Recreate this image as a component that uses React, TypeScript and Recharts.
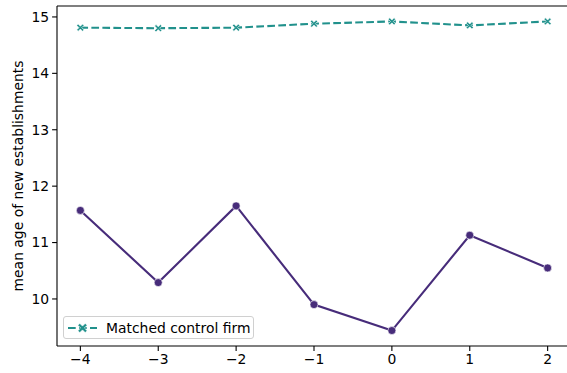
import React from "react";
import {
  LineChart,
  Line,
  XAxis,
  YAxis,
  ReferenceLine,
} from "recharts";

// event time relative to treatment
const periods = [-4, -3, -2, -1, 0, 1, 2];
// mean age of new establishments, treated firms
const treatedAge = [11.57, 10.29, 11.65, 9.9, 9.44, 11.13, 10.55];
// mean age of new establishments, matched control firms
const controlAge = [14.81, 14.8, 14.81, 14.88, 14.92, 14.85, 14.92];

const xTicks = [-4, -3, -2, -1, 0, 1, 2];
const yTicks = [10, 11, 12, 13, 14, 15];
const xDomain: [number, number] = [-4.3, 2.3];
const yDomain: [number, number] = [9.166, 15.194];

const PURPLE = "#472c7a";
const TEAL = "#21918c";
const FONT = "'DejaVu Sans', sans-serif";

const data = periods.map((p, i) => ({
  period: p,
  treated: treatedAge[i],
  control: controlAge[i],
}));

const fmt = (v: number) => String(v).replace("-", "\u2212");

// filled "X" marker with a thin white edge
const xPath = (cx: number, cy: number, s: number, w: number) => {
  const a = s;
  const b = w;
  const pts = [
    [-a, -a + b], [-a + b, -a], [0, -b], [a - b, -a], [a, -a + b], [b, 0],
    [a, a - b], [a - b, a], [0, b], [-a + b, a], [-a, a - b], [-b, 0],
  ];
  return (
    "M" +
    pts.map(([x, y]) => `${(cx + x).toFixed(2)},${(cy + y).toFixed(2)}`).join("L") +
    "Z"
  );
};

const XDot = (props: any) => {
  const { cx, cy } = props;
  if (cx == null || cy == null) return null;
  return (
    <path
      d={xPath(cx, cy, 3.6, 1.4)}
      fill={TEAL}
      stroke="#ffffff"
      strokeWidth={0.6}
    />
  );
};

const LegendBox = () => (
  <div
    style={{
      position: "absolute",
      left: 63,
      top: 316,
      border: "1px solid #d0d0d0",
      borderRadius: 3,
      background: "rgba(255,255,255,0.8)",
      width: 191,
      height: 23,
      boxSizing: "border-box",
      display: "flex",
      alignItems: "center",
      fontFamily: FONT,
      fontSize: 13.9,
      color: "#000",
    }}
  >
    <svg width={42} height={20} style={{ display: "block", flex: "none" }}>
      <line
        x1={4}
        x2={33}
        y1={10}
        y2={10}
        stroke={TEAL}
        strokeWidth={2.1}
        strokeDasharray="7.7 3.3"
      />
      <path d={xPath(18.5, 10, 4.6, 1.9)} fill={TEAL} stroke="#ffffff" strokeWidth={0.6} />
    </svg>
    <span style={{ whiteSpace: "nowrap" }}>Matched control firm</span>
  </div>
);

const YLabel = () => (
  <text
    x={18}
    y={176}
    transform="rotate(-90 18 176)"
    textAnchor="middle"
    dominantBaseline="central"
    fontFamily={FONT}
    fontSize={13.9}
    fill="#000"
  >
    mean age of new establishments
  </text>
);

export default function App() {
  return (
    <div
      style={{
        position: "absolute",
        left: 0,
        top: 0,
        width: 567,
        height: 373,
        overflow: "hidden",
        background: "#fff",
      }}
    >
      <LineChart
        width={571}
        height={373}
        data={data}
        margin={{ top: 6, right: 0, bottom: 0, left: 0 }}
      >
        <XAxis
          dataKey="period"
          type="number"
          domain={xDomain}
          ticks={xTicks}
          tickFormatter={fmt}
          allowDataOverflow
          height={27}
          tickSize={4.9}
          tickMargin={3}
          stroke="#000"
          axisLine={{ stroke: "#000", strokeWidth: 1.1 }}
          tickLine={{ stroke: "#000", strokeWidth: 1.1 }}
          tick={{ fill: "#000", fontSize: 13.9, fontFamily: FONT }}
        />
        <YAxis
          type="number"
          domain={yDomain}
          ticks={yTicks}
          allowDataOverflow
          width={57}
          tickSize={4.9}
          tickMargin={3}
          stroke="#000"
          axisLine={{ stroke: "#000", strokeWidth: 1.1 }}
          tickLine={{ stroke: "#000", strokeWidth: 1.1 }}
          tick={{ fill: "#000", fontSize: 13.9, fontFamily: FONT }}
          label={<YLabel />}
        />
        <ReferenceLine y={yDomain[1]} stroke="#000" strokeWidth={1.1} ifOverflow="visible" />
        <Line
          dataKey="treated"
          stroke={PURPLE}
          strokeWidth={2.1}
          dot={{ r: 4, fill: PURPLE, stroke: "#ffffff", strokeWidth: 0.6 }}
          activeDot={false}
          isAnimationActive={false}
        />
        <Line
          dataKey="control"
          stroke={TEAL}
          strokeWidth={2.1}
          strokeDasharray="7.7 3.3"
          dot={<XDot />}
          activeDot={false}
          isAnimationActive={false}
        />
      </LineChart>
      <LegendBox />
    </div>
  );
}
